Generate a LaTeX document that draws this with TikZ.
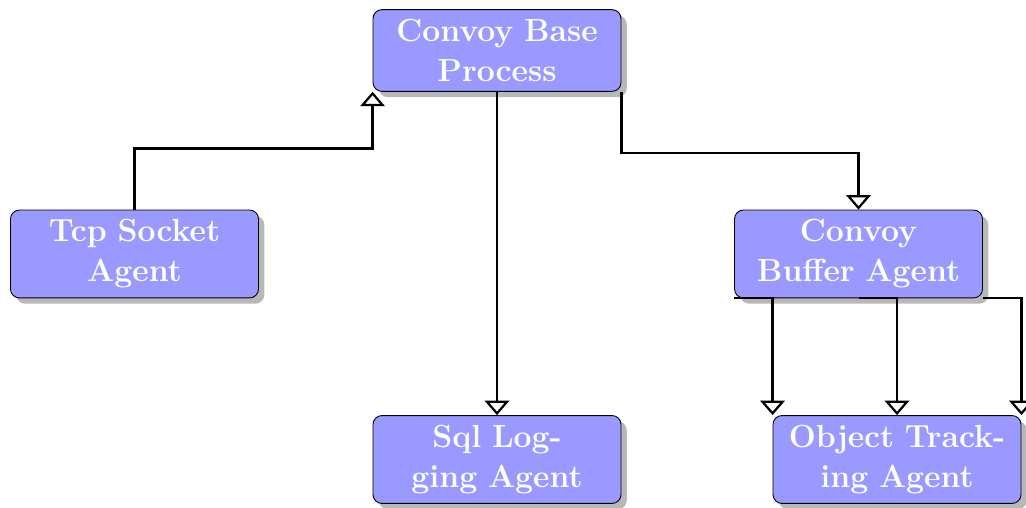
\documentclass[tikz,border=0pt]{standalone}
\usetikzlibrary{arrows.meta,shadows}
\begin{document}
\begin{tikzpicture}[x=0.45pt,y=-0.45pt,
	agent/.style={draw=black, rounded corners=4pt, fill=blue!40, text=white, font=\Large\bfseries, align=center, text width=100pt, inner xsep=5.8pt, inner ysep=4.3pt, drop shadow={fill=black!28, opacity=1, shadow xshift=2.6pt, shadow yshift=-2.6pt}},
	inherit/.style={draw, line width=1pt, -{Triangle[open,width=11pt,length=6.5pt]}}]
	\useasboundingbox (0,0) rectangle (1026,508);
	\node[agent] (base) at (497,50.5) {Convoy Base\\Process};
	\node[agent] (tcp) at (134.5,254) {Tcp Socket\\Agent};
	\node[agent] (buffer) at (858.5,254) {Convoy\\Buffer Agent};
	\node[agent] (sql) at (497,459.5) {Sql Log-\\ging Agent};
	\node[agent] (object) at (897,459.5) {Object Track-\\ing Agent};
	\draw[inherit] (tcp.north) -- ++(0,-61) -| (base.south west);
	\draw[inherit] (base.south) -- (sql.north);
	\draw[inherit] (base.south east) -- ++(0,61) -| (buffer.north);
	\draw[inherit] (buffer.south west) -| (object.north west);
	\draw[inherit] (buffer.south) -| (object.north);
	\draw[inherit] (buffer.south east) -| (object.north east);
\end{tikzpicture}
\end{document}
